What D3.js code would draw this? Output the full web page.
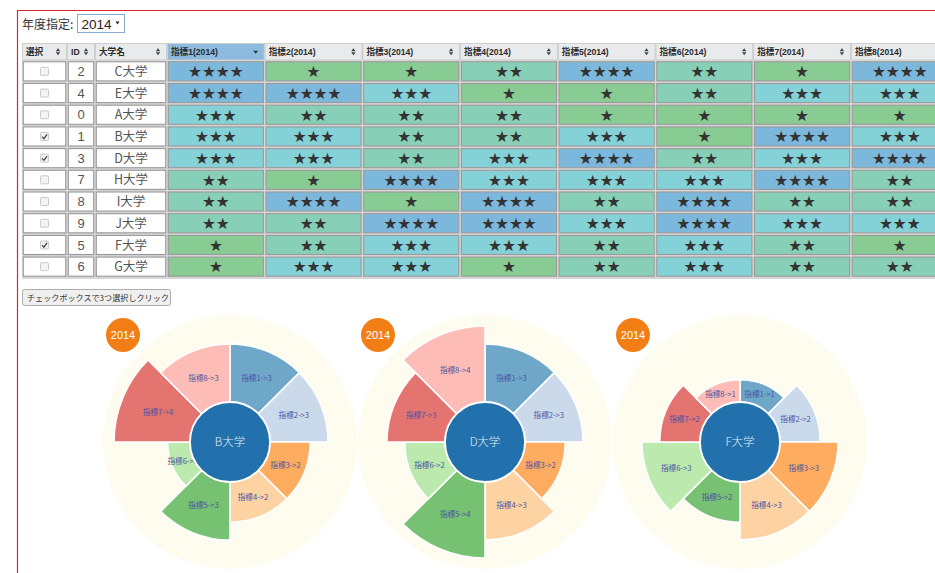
<!DOCTYPE html>
<html><head><meta charset="utf-8">
<script src="https://cdn.jsdelivr.net/npm/d3@7"></script>
<style>
html,body{margin:0;padding:0;background:#fff;overflow:hidden;}
svg{display:block;}
</style></head>
<body>
<svg id="chart" width="935" height="573"></svg>
<script>
// ---------------- data ----------------
const year = "2014";
const universities = ["C大学","E大学","A大学","B大学","D大学","H大学","I大学","J大学","F大学","G大学"];
const ids = [2,4,0,1,3,7,8,9,5,6];
const selected = [false,false,false,true,true,false,false,false,true,false];
const indicators = ["指標1","指標2","指標3","指標4","指標5","指標6","指標7","指標8"];
const scoresC = [4,1,1,2,4,2,1,4];
const scoresE = [4,4,3,1,1,2,3,3];
const scoresA = [3,2,2,2,1,1,1,1];
const scoresB = [3,3,2,2,3,1,4,3];
const scoresD = [3,3,2,3,4,2,3,4];
const scoresH = [2,1,4,3,3,3,4,2];
const scoresI = [2,4,1,4,2,4,2,2];
const scoresJ = [2,2,4,4,3,4,3,3];
const scoresF = [1,2,3,3,2,3,2,1];
const scoresG = [1,3,3,1,2,3,2,2];
const scores = [scoresC,scoresE,scoresA,scoresB,scoresD,scoresH,scoresI,scoresJ,scoresF,scoresG];
const headerLabels = ["選択","ID","大学名"].concat(indicators.map(d => d + "(" + year + ")"));
const sortedColumn = 3;
const buttonLabel = "チェックボックスで3つ選択しクリック";
const yearLabel = "年度指定:";

// ---------------- styles ----------------
const CJK = "'Noto Sans CJK JP','Noto Sans',sans-serif";
const LAT = "'Liberation Sans',Arial,'Noto Sans CJK JP',sans-serif";
const starColor = d3.scaleOrdinal().domain([1,2,3,4]).range(["#88cb93","#87cfb6","#84d1d7","#7cb8dc"]);
const segColors = ["#1f77b4","#aec7e8","#ff7f0e","#ffbb78","#2ca02c","#98df8a","#d62728","#ff9896"];

const svg = d3.select("#chart");

// page frame
svg.append("path").attr("d","M17.5,573 V10.5 H935").attr("fill","none").attr("stroke","#e0262a").attr("stroke-width",1.2);

// year selector
svg.append("text").attr("x",22).attr("y",29).attr("font-family",CJK).attr("font-size",12).attr("fill","#333").text(yearLabel);
svg.append("rect").attr("x",77.5).attr("y",14.5).attr("width",47).attr("height",18).attr("fill","#fff").attr("stroke","#86a9d6");
svg.append("text").attr("x",81.5).attr("y",28.5).attr("font-family",LAT).attr("font-size",13.5).attr("fill","#222").text(year);
svg.append("path").attr("d","M115.5,21.5 l4,0 l-2,3z").attr("fill","#222");

// ---------------- table ----------------
const colW = [45,28,72].concat(indicators.map(() => 97.7));
const colX = [22];
colW.forEach((w,i) => colX.push(colX[i] + w));
const tableTop = 43, headH = 17.5, rowH = 21.7;
const rowScale = d3.scaleBand().domain(d3.range(universities.length)).range([tableTop + headH, tableTop + headH + rowH*universities.length]).padding(0);

const table = svg.append("g");
table.append("rect").attr("x",22).attr("y",tableTop).attr("width",colX[colX.length-1]-22).attr("height",headH + rowH*universities.length + 1.5).attr("fill","#d6d6d6");

// header
const head = table.selectAll("g.h").data(headerLabels).join("g").attr("class","h");
head.append("rect")
  .attr("x",(d,i)=>colX[i]+0.5).attr("y",tableTop+0.5).attr("width",(d,i)=>colW[i]-1).attr("height",headH-1)
  .attr("fill",(d,i)=> i===sortedColumn ? "#8dbbdf" : "#e9eaeb").attr("stroke","#cfcfcf");
head.append("text")
  .attr("x",(d,i)=>colX[i]+4).attr("y",tableTop+12)
  .attr("font-family",LAT).attr("font-size",8.6).attr("font-weight","bold").attr("fill","#2b2b2b").text(d=>d);
head.each(function(d,i){
  const g = d3.select(this), cx = colX[i+1]-9, cy = tableTop + headH/2;
  if (i === sortedColumn) {
    g.append("path").attr("d",`M${cx-2.5},${cy-1} h5 l-2.5,3z`).attr("fill","#333");
  } else if (i < colW.length-1) {
    g.append("path").attr("d",`M${cx-2.2},${cy-0.6} l2.2,-3 l2.2,3z M${cx-2.2},${cy+0.6} l2.2,3 l2.2,-3z`).attr("fill","#444");
  }
});

// rows
const rows = table.selectAll("g.r").data(universities).join("g").attr("class","r")
  .attr("transform",(d,i)=>`translate(0,${rowScale(i)})`);
rows.each(function(name,r){
  const g = d3.select(this);
  const cells = [null,null,null].concat(scores[r]);
  cells.forEach((v,c) => {
    g.append("rect").attr("x",colX[c]+1.3).attr("y",1.3).attr("width",colW[c]-2.6).attr("height",rowH-2.6)
      .attr("fill", v===null ? "#fff" : starColor(v)).attr("stroke","#9a9a9a").attr("stroke-width",1.1);
  });
  // checkbox
  const cbx = colX[0] + colW[0]/2, cby = rowH/2;
  g.append("rect").attr("x",cbx-4).attr("y",cby-4).attr("width",8).attr("height",8).attr("rx",1.2)
    .attr("fill","#f3f3f3").attr("stroke","#c4c4c4").attr("stroke-width",0.9);
  if (selected[r]) {
    g.append("path").attr("d",`M${cbx-2.4},${cby+0.2} l1.8,2 l3.2,-4.2`).attr("fill","none").attr("stroke","#444").attr("stroke-width",1.3);
  }
  g.append("text").attr("x",colX[1]+colW[1]/2).attr("y",rowH/2+4.6).attr("text-anchor","middle")
    .attr("font-family",LAT).attr("font-size",13).attr("fill","#555").text(ids[r]);
  g.append("text").attr("x",colX[2]+colW[2]/2).attr("y",rowH/2+4.6).attr("text-anchor","middle")
    .attr("font-family",CJK).attr("font-size",12.5).attr("fill","#555").text(name);
  scores[r].forEach((v,k) => {
    g.append("text").attr("x",colX[k+3]+colW[k+3]/2).attr("y",rowH/2+5.8).attr("text-anchor","middle")
      .attr("font-family","'DejaVu Sans',sans-serif").attr("font-size",15.5).attr("fill","#333")
      .text("★".repeat(v));
  });
});

// button
svg.append("rect").attr("x",22.5).attr("y",289.5).attr("width",148).attr("height",16).attr("rx",2)
  .attr("fill","#efefef").attr("stroke","#adadad");
svg.append("text").attr("x",27).attr("y",301.3).attr("font-family",CJK).attr("font-size",8.1).attr("fill","#333").text(buttonLabel);

// ---------------- aster charts ----------------
const order = ["B大学","D大学","F大学"].map(n => universities.indexOf(n));
const centerX = d3.scalePoint().domain(order).range([230,740]);
const cy = 442, innerR = 40;
const rScale = d3.scaleLinear().domain([0,4]).range([44.5,116]);
const pie = d3.pie().value(1).sort(null);

order.forEach(u => {
  const g = svg.append("g").attr("transform",`translate(${centerX(u)},${cy})`);
  g.append("circle").attr("r",127).attr("fill","#fdfcef");
  const arcs = pie(scores[u].map((v,k)=>({v, k})));
  const arc = d3.arc().innerRadius(innerR).outerRadius(d => rScale(d.data.v));
  g.selectAll("path.seg").data(arcs).join("path").attr("class","seg")
    .attr("d",arc).attr("fill",d=>segColors[d.data.k]).attr("fill-opacity",0.64)
    .attr("stroke","#fff").attr("stroke-width",1.6);
  g.selectAll("text.lab").data(arcs).join("text").attr("class","lab")
    .attr("transform",d=>`translate(${arc.centroid(d)})`).attr("dy","0.35em")
    .attr("text-anchor","middle").attr("font-family",CJK).attr("font-size",7.6).attr("fill","#4a52a3")
    .text(d => indicators[d.data.k] + "->" + d.data.v);
  g.append("circle").attr("r",innerR).attr("fill","#2271ad").attr("stroke","#fff").attr("stroke-width",1.8);
  g.append("text").attr("dy","0.36em").attr("text-anchor","middle").attr("font-family",CJK).attr("font-weight",300)
    .attr("font-size",11.5).attr("fill","#e4ebf4").text(universities[u]);
  g.append("circle").attr("cx",-107).attr("cy",-107).attr("r",17).attr("fill","#f27e16");
  g.append("text").attr("x",-107).attr("y",-107).attr("dy","0.36em").attr("text-anchor","middle")
    .attr("font-family",LAT).attr("font-size",11).attr("fill","#fff").text(year);
});
</script>
</body></html>
